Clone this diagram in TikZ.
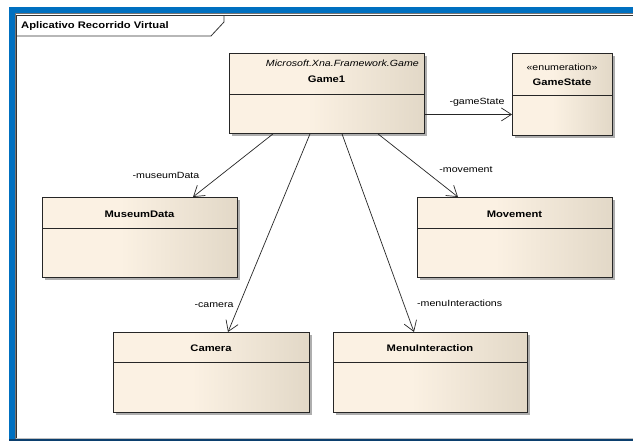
\documentclass[tikz,border=0pt]{standalone}
\usepackage{fontspec}
\setmainfont[FakeStretch=1.18]{Liberation Sans}
\usetikzlibrary{arrows.meta,calc,shadows}
\definecolor{clsL}{HTML}{FBF1E3}
\definecolor{clsR}{HTML}{E2D8C7}
\definecolor{frameblue}{HTML}{0070C0}
\definecolor{framenavy}{HTML}{0B3F6E}
\pgfdeclarehorizontalshading{clsshade}{100bp}{color(0bp)=(clsL); color(25bp)=(clsL); color(45bp)=(clsL); color(75bp)=(clsR); color(100bp)=(clsR)}
\begin{document}
\begin{tikzpicture}[x=1pt,y=-1pt,
  font=\fontsize{9.5}{11}\selectfont,
  cls/.style={draw=black!85, line width=0.9pt, shading=clsshade, anchor=north west, inner sep=0pt,
    drop shadow={shadow xshift=3pt, shadow yshift=-3pt, fill=black!45, opacity=0.7}},
  divider/.style={draw=black!85, line width=0.8pt},
  assoc/.style={draw=black!85, line width=0.7pt, -{Straight Barb[length=10pt,width=13pt]}},
  role/.style={inner sep=0pt, font=\fontsize{9}{11}\selectfont},
  clsname/.style={inner sep=0pt, font=\bfseries\fontsize{9.5}{11}\selectfont},
  stereo/.style={inner sep=0pt, font=\fontsize{9}{11}\selectfont},
]
\useasboundingbox (0,0) rectangle (633,441);
\fill[white] (0,0) rectangle (633,441);
% window frame
\fill[frameblue] (9,7) rectangle (633,13);
\fill[frameblue] (9,7) rectangle (15,441);
\fill[black!55] (15,13) rectangle (633,14);
\fill[black!55] (15,13) rectangle (16,441);
\fill[black!25] (16,437.5) rectangle (633,438.5);
\fill[framenavy] (9,439) rectangle (633,441);
% package frame
\draw[black!80, line width=0.8pt] (633,15.5) -- (16.5,15.5) -- (16.5,438);
\draw[black!80, line width=0.8pt] (16.5,36) -- (211,36) -- (224,22) -- (224,15.5);
\node[clsname, anchor=west] (pkg) at (21,26) {Aplicativo Recorrido Virtual};

% classes
\node[cls, minimum width=195pt, minimum height=80pt] (game) at (229,53) {};
\draw[divider] (game.west |- 0,94) -- (game.east |- 0,94);
\node[stereo, anchor=east] (gameparent) at (419,63) {\itshape Microsoft.Xna.Framework.Game};
\node[clsname] (gamename) at (326.5,79) {Game1};

\node[cls, minimum width=100pt, minimum height=82pt] (gamestate) at (512,53) {};
\draw[divider] (gamestate.west |- 0,95) -- (gamestate.east |- 0,95);
\node[stereo] (gsstereo) at (562,67) {«enumeration»};
\node[clsname] (gsname) at (562,82) {GameState};

\node[cls, minimum width=195pt, minimum height=80pt] (museum) at (42,197) {};
\draw[divider] (museum.west |- 0,228) -- (museum.east |- 0,228);
\node[clsname] (museumname) at (139.5,214) {MuseumData};

\node[cls, minimum width=195pt, minimum height=80pt] (movement) at (417,197) {};
\draw[divider] (movement.west |- 0,228) -- (movement.east |- 0,228);
\node[clsname] (movementname) at (514.5,214) {Movement};

\node[cls, minimum width=196pt, minimum height=80pt] (camera) at (113,332) {};
\draw[divider] (camera.west |- 0,362) -- (camera.east |- 0,362);
\node[clsname] (cameraname) at (211,348) {Camera};

\node[cls, minimum width=194pt, minimum height=80pt] (menu) at (333,332) {};
\draw[divider] (menu.west |- 0,362) -- (menu.east |- 0,362);
\node[clsname] (menuname) at (430,348) {MenuInteraction};

% associations
\draw[assoc] ([yshift=-21pt]game.east) -- ([yshift=-21pt]game.east -| gamestate.west);
\node[role] (lgs) at (477,102) {-gameState};

\draw[assoc] ([xshift=44pt]game.south west) -- ([xshift=151pt]museum.north west);
\node[role] (lmd) at (166,175) {-museumData};

\draw[assoc] ([xshift=81pt]game.south west) -- ([xshift=115pt]camera.north west);
\node[role] (lcam) at (214,305) {-camera};

\draw[assoc] ([xshift=113pt]game.south west) -- ([xshift=81pt]menu.north west);
\node[role, anchor=west] (lmenu) at (417,303) {-menuInteractions};

\draw[assoc] ([xshift=149pt]game.south west) -- ([xshift=41pt]movement.north west);
\node[role] (lmov) at (466,170) {-movement};
\end{tikzpicture}
\end{document}
